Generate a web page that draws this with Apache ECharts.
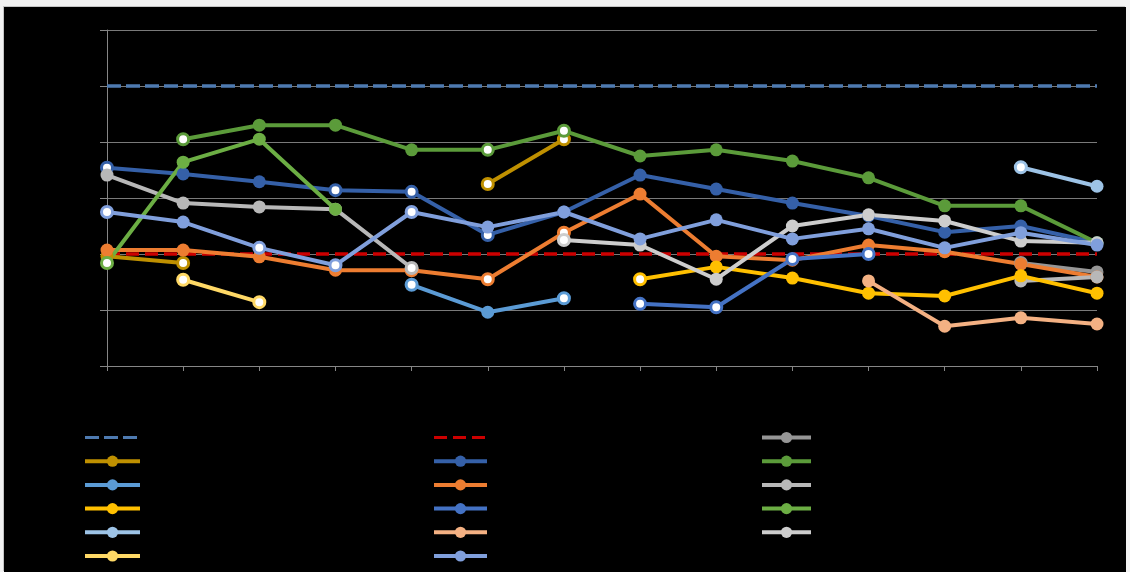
<!DOCTYPE html>
<html>
<head>
<meta charset="utf-8">
<script src="https://cdn.jsdelivr.net/npm/echarts@6/dist/echarts.min.js"></script>
<style>
  html, body { margin: 0; padding: 0; background: #f2f2f2; width: 1130px; height: 572px; overflow: hidden; }
  #chart { position: absolute; left: 4px; top: 7px; width: 1122px; height: 565px; background: #000;
           box-shadow: -1px -1px 0 #c4c4c4; }
</style>
</head>
<body>
<div id="chart"></div>
<script>
// Category ticks along the x axis (labels are not shown)
const categories = ['1', '2', '3', '4', '5', '6', '7', '8', '9', '10', '11', '12', '13', '14'];

// Reference levels
const upperLimit = [50, 50, 50, 50, 50, 50, 50, 50, 50, 50, 50, 50, 50, 50];
const lowerLimit = [20, 20, 20, 20, 20, 20, 20, 20, 20, 20, 20, 20, 20, 20];

// Measured series (null = no value for that period)
const greyDark    = [null, null, null, null, null, null, null, null, null, null, null, null, 18.4, 16.8];
const goldDark    = [19.6, 18.4, null, null, null, 32.5, 40.5, null, null, null, null, null, null, null];
const blueDark    = [35.4, 34.3, 32.9, 31.4, 31.1, 23.4, 27.5, 34.1, 31.6, 29.1, 26.8, 23.9, 25.0, 22.0];
const greenDark   = [null, 40.5, 43.0, 43.0, 38.6, 38.6, 42.0, 37.5, 38.6, 36.6, 33.6, 28.6, 28.6, 22.0];
const skyBlue     = [null, null, null, null, 14.5, 9.6, 12.1, null, null, null, null, null, null, null];
const orange      = [20.7, 20.7, 19.5, 17.1, 17.1, 15.5, 23.8, 30.7, 19.6, 18.9, 21.6, 20.4, 18.2, 15.9];
const greyMid     = [34.1, 29.1, 28.4, 28.0, 17.5, null, null, null, null, null, null, null, 15.2, 15.9];
const gold        = [null, null, null, null, null, null, null, 15.5, 17.7, 15.7, 13.0, 12.5, 16.1, 13.0];
const blue        = [null, null, null, null, null, null, null, 11.1, 10.5, 19.1, 20.0, null, null, null];
const greenLight  = [18.4, 36.4, 40.5, 28.0, null, null, null, null, null, null, null, null, null, null];
const paleBlue    = [null, null, null, null, null, null, null, null, null, null, null, null, 35.5, 32.1];
const salmon      = [null, null, null, null, null, null, null, null, null, null, 15.2, 7.1, 8.6, 7.5];
const greyLight   = [null, null, null, null, null, null, 22.5, 21.6, 15.5, 25.0, 27.0, 25.9, 22.3, 22.0];
const paleYellow  = [null, 15.4, 11.4, null, null, null, null, null, null, null, null, null, null, null];
const periwinkle  = [27.5, 25.7, 21.1, 18.0, 27.5, 24.8, 27.5, 22.7, 26.1, 22.7, 24.5, 21.1, 23.8, 21.6];

// Series definitions in legend (row-major) order; "open" lists points drawn with a white centre
const seriesDefs = [
  { name: 'Upper limit', data: upperLimit, color: '#4e7ab0', dash: [14, 5] },
  { name: 'Lower limit', data: lowerLimit, color: '#cc0000', dash: [13, 6] },
  { name: 'G1', data: greyDark,   color: '#969696', open: [12] },
  { name: 'A1', data: goldDark,   color: '#bf9000', open: [1, 5, 6] },
  { name: 'B1', data: blueDark,   color: '#3560a8', open: [0, 3, 4, 5] },
  { name: 'C1', data: greenDark,  color: '#5b9b3a', open: [1, 5, 6] },
  { name: 'A2', data: skyBlue,    color: '#5b9bd5', open: [4, 6] },
  { name: 'B2', data: orange,     color: '#ed7d31', open: [4, 5, 6] },
  { name: 'C2', data: greyMid,    color: '#b8b8b8', open: [4] },
  { name: 'A3', data: gold,       color: '#ffc000', open: [7] },
  { name: 'B3', data: blue,       color: '#4472c4', open: [7, 8, 9, 10] },
  { name: 'C3', data: greenLight, color: '#6cae44', open: [0] },
  { name: 'A4', data: paleBlue,   color: '#9dc3e6', open: [12] },
  { name: 'B4', data: salmon,     color: '#f4b183', open: [] },
  { name: 'C4', data: greyLight,  color: '#cdcdcd', open: [6] },
  { name: 'A5', data: paleYellow, color: '#ffd966', open: [1, 2] },
  { name: 'B5', data: periwinkle, color: '#809fdc', open: [0, 2, 3, 4] }
];

const series = seriesDefs.map(function (d) {
  const base = {
    name: d.name,
    type: 'line',
    data: d.data.map(function (v, i) {
      if (v != null && d.open && d.open.indexOf(i) > -1) {
        return { value: v, symbolSize: 11, itemStyle: { color: '#ffffff', borderColor: d.color, borderWidth: 3 } };
      }
      return v;
    }),
    connectNulls: false,
    color: d.color,
    animation: false,
    z: 3
  };
  if (d.dash) {
    base.symbol = 'none';
    base.lineStyle = { color: d.color, width: 3.5, type: d.dash };
    base.z = 2;
  } else {
    base.symbol = 'circle';
    base.symbolSize = 13;
    base.showSymbol = true;
    base.showAllSymbol = true;
    base.lineStyle = { color: d.color, width: 4 };
    base.itemStyle = { color: d.color, borderWidth: 0 };
  }
  return base;
});

// Legend split into three columns, filled row by row
function legendColumn(col, left, width) {
  const items = [];
  for (let i = col; i < seriesDefs.length; i += 3) {
    const d = seriesDefs[i];
    const item = { name: d.name };
    if (d.dash) {
      item.itemStyle = { opacity: 0 };
      item.lineStyle = { width: 3, type: d.dash, color: d.color };
    }
    items.push(item);
  }
  return {
    orient: 'vertical',
    left: left,
    top: 423.5,
    padding: 0,
    itemWidth: width,
    itemHeight: 14,
    itemGap: 11.1,
    data: items,
    formatter: function () { return ''; },
    textStyle: { fontSize: 10, color: '#000' },
    lineStyle: { width: 4 },
    selectedMode: false
  };
}

const chart = echarts.init(document.getElementById('chart'), null, { renderer: 'canvas' });
chart.setOption({
  backgroundColor: '#000000',
  animation: false,
  grid: { left: 103, right: 29, top: 23, bottom: 206, containLabel: false },
  legend: [legendColumn(0, 79, 55), legendColumn(1, 428, 53), legendColumn(2, 756, 49)],
  xAxis: {
    type: 'category',
    data: categories,
    boundaryGap: false,
    axisLine: { show: true, lineStyle: { color: '#868686', width: 1 } },
    axisTick: { show: true, length: 5, lineStyle: { color: '#868686' } },
    axisLabel: { show: false },
    splitLine: { show: false }
  },
  yAxis: {
    type: 'value',
    min: 0,
    max: 60,
    interval: 10,
    axisLine: { show: true, lineStyle: { color: '#868686', width: 1 } },
    axisTick: { show: true, length: 7, lineStyle: { color: '#868686' } },
    axisLabel: { show: false },
    splitLine: { show: true, lineStyle: { color: '#7a7a7a', width: 1 } }
  },
  series: series
});
</script>
</body>
</html>
